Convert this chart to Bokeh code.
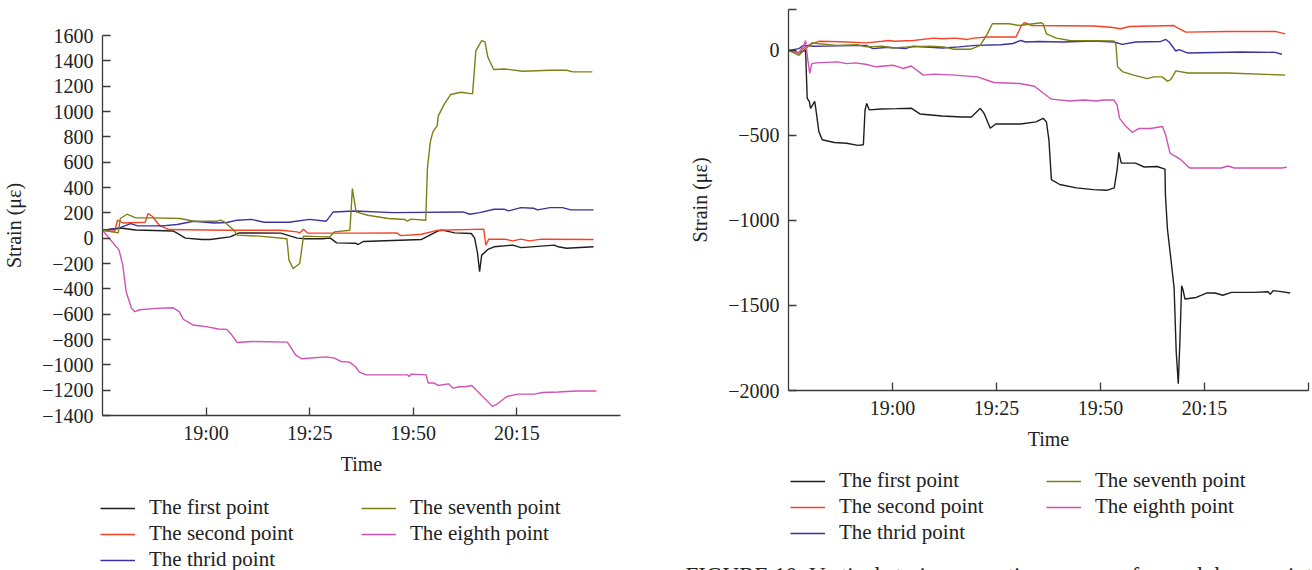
import pandas as pd
from bokeh.plotting import figure
from bokeh.layouts import row, column
from bokeh.models import FixedTicker, Legend, LegendItem, DatetimeTickFormatter, Range1d, Label
from bokeh.embed import file_html
from bokeh.resources import INLINE

# ---------------- data (time in minutes after 18:35, strain in micro-strain) ----------------
START = "18:35"
END = "20:40"
series_names = ["The first point", "The second point", "The thrid point", "The seventh point", "The eighth point"]
series_colors = ["#1e1e1e", "#f44325", "#3b33a0", "#7f7f16", "#cf52b4"]
x_tick_labels = ["19:00", "19:25", "19:50", "20:15"]
y_ticks_left = [-1400, -1200, -1000, -800, -600, -400, -200, 0, 200, 400, 600, 800, 1000, 1200, 1400, 1600]
y_ticks_right = [-2000, -1500, -1000, -500, 0]

# left panel
first_a_t = [0, 4.3, 8, 17, 18, 20, 24, 26, 30.8, 33, 43, 47, 49, 53, 55, 56.5, 61, 61.7, 63, 77, 81, 82, 85, 89, 89.8, 90.5, 91, 91.5, 93, 94.5, 99, 101, 109, 110, 112, 118.5]
first_a_v = [63, 80, 65, 57, 40, 0, -10, -10, 10, 42, 40, 0, -5, -5, 0, -37, -40, -50, -26, -10, 58, 63, 42, 37, 0, -118, -265, -134, -89, -68, -55, -75, -55, -68, -80, -68]
second_a_t = [0, 3, 3.6, 5, 10.3, 11, 12, 13.7, 16, 30, 43, 47, 47.6, 48.5, 49.5, 55, 61, 71, 72, 77, 81, 92, 92.5, 93.2, 97, 99, 101, 103, 106, 118.5]
second_a_v = [60, 55, 142, 120, 126, 194, 173, 102, 68, 62, 62, 50, 40, 70, 40, 40, 40, 42, 20, 31, 63, 71, -55, -8, -8, -21, -8, -21, -8, -10]
third_a_t = [0, 3.6, 6.8, 8.5, 14.4, 18, 22, 27, 30, 32.5, 36, 39, 45, 50, 54, 55.7, 61, 70, 87, 88.6, 91, 94.5, 97, 98, 101, 104, 105, 108, 111, 113, 118.5]
third_a_v = [63, 75, 115, 97, 97, 108, 134, 120, 124, 142, 148, 126, 126, 148, 134, 207, 215, 202, 207, 189, 202, 228, 228, 215, 241, 236, 223, 241, 241, 223, 223]
seventh_a_t = [0, 3.8, 4.3, 5.9, 8, 12, 18.8, 22, 27.6, 28.5, 29.5, 31.7, 32.5, 38, 44.5, 45, 46, 47.6, 48.5, 54.8, 56, 59.7, 60.3, 61.2, 64, 69, 73, 73.5, 74.5, 78, 78.4, 79.1, 79.7, 80.8, 81, 82.5, 84, 86.5, 89.3, 90.1, 91.5, 92.3, 93, 94.4, 97, 101.4, 108, 112, 113.5, 118.2]
seventh_a_v = [63, 42, 155, 189, 160, 160, 155, 134, 134, 142, 126, 63, 24, 16, -5, -173, -239, -200, 16, 10, 50, 63, 391, 207, 181, 155, 147, 134, 150, 142, 549, 758, 837, 890, 963, 1060, 1134, 1152, 1139, 1480, 1559, 1550, 1428, 1331, 1336, 1318, 1326, 1326, 1313, 1313]
eighth_a_t = [0, 4, 4.9, 5.7, 7, 7.8, 9, 13, 17, 18.5, 19.5, 21.8, 25, 28, 30, 31, 32.5, 36, 44.6, 45.2, 46.6, 48, 54, 56, 57.6, 59.6, 61, 62, 63.6, 73.6, 74, 74.5, 78.1, 78.6, 80, 81, 83.5, 84.6, 86, 87.5, 89.1, 94.1, 95, 97.6, 100.2, 104.2, 106.2, 110, 114.2, 119.2]
eighth_a_v = [63, -94, -215, -423, -554, -580, -565, -554, -549, -580, -640, -685, -698, -717, -720, -756, -824, -816, -821, -850, -921, -952, -937, -947, -974, -979, -1013, -1058, -1079, -1079, -1092, -1073, -1079, -1144, -1144, -1163, -1150, -1184, -1173, -1173, -1163, -1328, -1315, -1250, -1231, -1231, -1218, -1215, -1207, -1207]

# right panel
first_b_t = [0, 2.5, 4.1, 4.5, 5, 5.3, 6.3, 6.6, 7.3, 8.1, 11, 14, 16.7, 18, 18.4, 18.8, 19.4, 22.3, 26, 29.6, 31.6, 36.9, 41.7, 44, 46.1, 47, 48.5, 49.8, 55.8, 59.5, 61.2, 62, 62.6, 63.2, 65.2, 69.2, 73.3, 76.5, 78.3, 79, 79.4, 80, 81.5, 83.4, 85.5, 88.6, 90.5, 90.6, 91.1, 92.2, 92.7, 93.2, 93.7, 94.1, 94.5, 94.8, 95.3, 98, 100.5, 102.5, 104.4, 106.5, 112, 115.3, 115.8, 116.5, 118, 120.6]
first_b_v = [0, -15, 0, -283, -300, -341, -300, -350, -478, -526, -542, -546, -559, -555, -351, -312, -350, -345, -343, -341, -374, -386, -392, -392, -341, -370, -458, -433, -433, -421, -400, -420, -526, -760, -789, -809, -819, -823, -809, -702, -600, -663, -663, -663, -686, -683, -698, -848, -1053, -1287, -1400, -1772, -1960, -1700, -1384, -1404, -1462, -1453, -1427, -1427, -1440, -1423, -1423, -1419, -1435, -1413, -1417, -1427]
second_b_t = [0, 2.5, 4, 5.7, 7.3, 12.6, 18.7, 22.6, 24, 25.5, 30, 34.9, 37, 40, 43, 44.5, 47.8, 54.7, 56, 56.7, 57.5, 58.3, 73.3, 77.5, 79.8, 82, 92.7, 93.2, 95.5, 105.6, 117, 119.4]
second_b_v = [0, -14, 20, 39, 53, 50, 44, 53, 58, 53, 58, 72, 68, 72, 64, 72, 78, 78, 146, 162, 156, 146, 143, 136, 127, 140, 146, 136, 107, 111, 111, 97]
third_b_t = [0, 2.5, 3.6, 6, 12, 18.7, 20.3, 24, 28, 30, 37, 41, 45, 51, 54, 55.8, 57, 60, 66, 73.3, 78.3, 80.2, 83.5, 89.5, 90.7, 91.5, 93.1, 93.9, 96, 108.9, 117, 118.6]
third_b_v = [0, 10, 29, 24, 26, 29, 10, 18, 10, 24, 14, 20, 29, 33, 40, 58, 49, 52, 49, 55, 49, 35, 49, 52, 64, 49, -4, 4, -16, -10, -12, -23]
seventh_b_t = [0, 2.5, 3.7, 5.7, 7.3, 11.7, 16.5, 18.7, 22.6, 25, 29, 34, 37.3, 39.7, 43.7, 46.1, 47.8, 49, 53, 55.5, 60.8, 61.2, 62, 64.4, 67.6, 78.2, 78.7, 79.1, 80.4, 83, 86.2, 87.8, 89.8, 91.1, 91.9, 93.1, 96, 105.6, 119.4]
seventh_b_v = [0, -29, 0, 45, 39, 29, 33, 20, 24, 14, 20, 24, 20, 6, 6, 29, 97, 156, 156, 146, 162, 156, 97, 72, 58, 55, 35, -97, -127, -146, -166, -156, -156, -181, -172, -121, -133, -133, -146]
eighth_b_t = [0, 2.5, 3.7, 4.1, 4.6, 5.1, 5.6, 6.6, 11.7, 14, 16, 18.5, 21.1, 25, 26.5, 27.6, 29.5, 32.4, 35, 40, 45.4, 49.4, 55.5, 59.1, 62.4, 63.2, 67.6, 71, 74, 75.6, 78.2, 79, 79.6, 81, 82.6, 84.2, 87, 89.9, 90.7, 91.7, 94.3, 96.4, 104, 105.6, 107.2, 118.6, 119.8]
eighth_b_v = [0, -14, 29, 58, -49, -136, -78, -74, -68, -78, -74, -82, -97, -88, -97, -107, -92, -146, -140, -146, -156, -189, -195, -211, -273, -287, -298, -292, -298, -292, -292, -322, -400, -444, -482, -460, -460, -448, -500, -604, -643, -692, -692, -680, -692, -692, -687]

caption = "FIGURE 10: Vertical strain versus time curves of armed dome points"

# ---------------- helpers ----------------
DAY = "2019-06-01 "
t0 = pd.Timestamp(DAY + START)
t_end = pd.Timestamp(DAY + END)


def to_time(mins):
    return [t0 + pd.Timedelta(minutes=m) for m in mins]


def ms(ts):
    return ts.value // 10**6


FONT = "Liberation Serif"
AXIS_COLOR = "#3a3a3a"
TEXT_COLOR = "#222222"


def style_axes(p):
    for ax in (p.xaxis[0], p.yaxis[0]):
        ax.axis_line_color = AXIS_COLOR
        ax.axis_line_width = 1.3
        ax.major_tick_line_color = AXIS_COLOR
        ax.major_tick_line_width = 1.3
        ax.major_tick_in = 8
        ax.major_tick_out = 0
        ax.minor_tick_line_color = None
        ax.major_label_text_font = FONT
        ax.major_label_text_font_size = "20px"
        ax.major_label_text_color = TEXT_COLOR
        ax.axis_label_text_font = FONT
        ax.axis_label_text_font_size = "20px"
        ax.axis_label_text_font_style = "normal"
        ax.axis_label_text_color = TEXT_COLOR
    p.xaxis[0].major_label_standoff = 6
    p.xaxis[0].axis_label_standoff = 6
    p.yaxis[0].major_label_standoff = 9
    p.yaxis[0].axis_label_standoff = 14
    p.xgrid.visible = False
    p.ygrid.visible = False
    p.outline_line_color = None


def make_plot(width, height, borders, y_lo, y_hi, y_ticks, x_extra_ticks, y_extra_ticks, series):
    left, right, top, bottom = borders
    p = figure(width=width, height=height, x_axis_type="datetime",
               x_range=Range1d(t0, t_end), y_range=Range1d(y_lo, y_hi),
               min_border_left=left, min_border_right=right, min_border_top=top, min_border_bottom=bottom,
               frame_align=False, output_backend="svg", toolbar_location=None)
    tick_ts = [pd.Timestamp(DAY + s) for s in x_tick_labels]
    xt = [ms(t) for t in tick_ts] + [ms(t) for t in x_extra_ticks]
    p.xaxis[0].ticker = FixedTicker(ticks=xt)
    p.xaxis[0].formatter = DatetimeTickFormatter(minutes="%H:%M", hourmin="%H:%M", hours="%H:%M",
                                                 minsec="%H:%M", seconds="%H:%M", days="%H:%M")
    p.xaxis[0].major_label_overrides = {ms(t): "" for t in x_extra_ticks}
    p.yaxis[0].ticker = FixedTicker(ticks=list(y_ticks) + list(y_extra_ticks))
    ov = {v: str(v).replace("-", "\u2212") for v in y_ticks}
    ov.update({v: "" for v in y_extra_ticks})
    p.yaxis[0].major_label_overrides = ov
    p.xaxis[0].axis_label = "Time"
    p.yaxis[0].axis_label = "Strain (\u03bc\u03b5)"
    style_axes(p)
    for (tt, vv), col in zip(series, series_colors):
        p.line(to_time(tt), vv, line_color=col, line_width=1.4)
    return p


def make_legend_fig(width, height, loc, label_w, series):
    # a frame-only figure that hosts the legend; its series lie outside its (0..1) ranges
    lp = figure(width=width, height=height, min_border=0, frame_align=False,
                x_range=Range1d(0, 1), y_range=Range1d(0, 1),
                x_axis_location=None, y_axis_location=None,
                output_backend="svg", toolbar_location=None)
    lp.outline_line_color = None
    lp.xgrid.visible = False
    lp.ygrid.visible = False
    items = []
    for (tt, vv), name, col in zip(series, series_names, series_colors):
        r = lp.line(to_time(tt), vv, line_color=col, line_width=1.4)
        items.append(LegendItem(label=name, renderers=[r]))
    leg = Legend(items=items, orientation="vertical", nrows=3, location=loc,
                 label_text_font=FONT, label_text_font_size="21px", label_text_color=TEXT_COLOR,
                 glyph_width=35, glyph_height=20, label_height=20, label_width=label_w, label_standoff=14,
                 spacing=1, padding=0, margin=0, border_line_color=None, background_fill_alpha=0)
    lp.add_layout(leg, "center")
    return lp


left_series = [(first_a_t, first_a_v), (second_a_t, second_a_v), (third_a_t, third_a_v),
               (seventh_a_t, seventh_a_v), (eighth_a_t, eighth_a_v)]
right_series = [(first_b_t, first_b_v), (second_b_t, second_b_v), (third_b_t, third_b_v),
                (seventh_b_t, seventh_b_v), (eighth_b_t, eighth_b_v)]

p1 = make_plot(680, 480, (100, 60, 35, 65), -1400, 1600, y_ticks_left, [], [], left_series)
p2 = make_plot(632, 455, (108, 4, 9, 65), -2000, 240, y_ticks_right, [t_end], [240], right_series)
l1 = make_legend_fig(680, 90, (100, -2), 211, left_series)
l2 = make_legend_fig(632, 115, (110, 25), 206, right_series)

cap = Label(x=5, y=8, x_units="screen", y_units="screen", text=caption, text_baseline="top",
            text_font=FONT, text_font_size="23px", text_color=TEXT_COLOR)
l2.add_layout(cap)

layout = row(column(p1, l1), column(p2, l2))
open("out.html", "w").write(file_html(layout, INLINE))
